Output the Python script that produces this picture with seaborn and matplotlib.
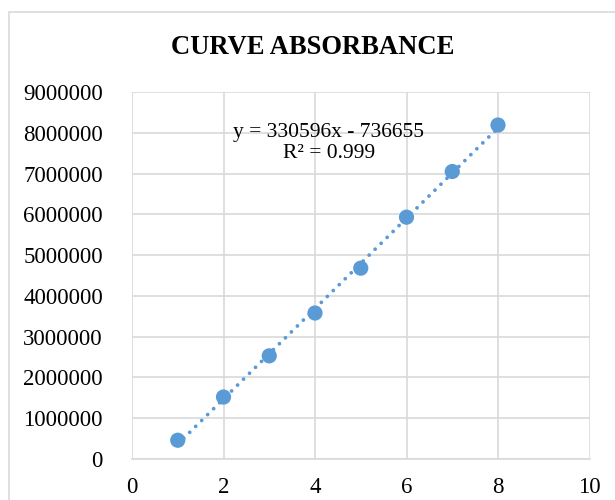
import matplotlib
matplotlib.use("Agg")
import matplotlib.pyplot as plt
import seaborn as sns
import numpy as np
import pandas as pd
from matplotlib.patches import Rectangle

# Data
concentration = [1, 2, 3, 4, 5, 6, 7, 8]
absorbance = [460000, 1520000, 2530000, 3580000, 4680000, 5930000, 7050000, 8190000]
x_ticks = [0, 2, 4, 6, 8, 10]
y_ticks = [0, 1000000, 2000000, 3000000, 4000000, 5000000, 6000000, 7000000, 8000000, 9000000]
title = "CURVE ABSORBANCE"
equation_text = "y = 330596x - 736655\nR² = 0.999"

df = pd.DataFrame({"x": concentration, "y": absorbance})

sns.set_theme(style="whitegrid")
plt.rcParams["font.family"] = ["Liberation Serif", "DejaVu Serif"]

blue = "#5b9bd5"
grid_c = "#d9d9d9"

fig = plt.figure(figsize=(6.15, 5.0), dpi=100)
ax = fig.add_axes([132 / 615, 1 - 459 / 500, (589.5 - 132) / 615, (459 - 92) / 500])

# outer chart border
fig.patches.append(Rectangle((9 / 615, -0.1), 1.2, 1 - 12 / 500 + 0.1, transform=fig.transFigure,
                             fill=False, edgecolor=grid_c, linewidth=1.2, zorder=0))

sns.regplot(data=df, x="x", y="y", ax=ax, scatter=False, ci=None, truncate=True,
            line_kws=dict(color=blue, linewidth=2.75, linestyle=(0, (0.001, 2.2)),
                          dash_capstyle="round", zorder=2))
sns.scatterplot(data=df, x="x", y="y", ax=ax, color=blue, s=120, edgecolor="none", zorder=3)

ax.set_xlim(0, 10)
ax.set_ylim(0, 9000000)
ax.set_xticks(x_ticks)
ax.set_yticks(y_ticks)
ax.set_xticklabels([str(v) for v in x_ticks])
ax.set_yticklabels([str(v) for v in y_ticks])
ax.set_xlabel("")
ax.set_ylabel("")
ax.grid(True, color=grid_c, linewidth=1.2)
ax.set_facecolor("white")
for s in ["top", "right", "left"]:
    ax.spines[s].set_visible(False)
ax.spines["bottom"].set_visible(True)
ax.spines["bottom"].set_color(grid_c)
ax.spines["bottom"].set_linewidth(1.2)
ax.tick_params(axis="both", length=0, labelsize=16.5, colors="black")
ax.tick_params(axis="y", pad=21)
ax.tick_params(axis="x", pad=13)

ax.text(4.3, 7750000, equation_text, ha="center", va="center", fontsize=15.5,
        color="black", linespacing=1.2)

fig.text(313 / 615, 1 - 47 / 500, title, ha="center", va="center",
         fontsize=19.2, fontweight="bold", color="black")

fig.savefig("out.png", dpi=100, facecolor="white")
